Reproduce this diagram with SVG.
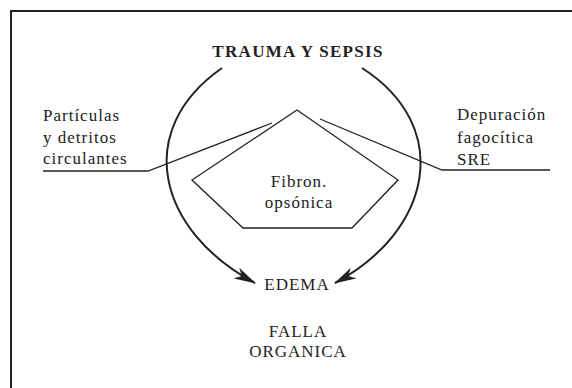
<svg xmlns="http://www.w3.org/2000/svg" width="572" height="388" viewBox="0 0 572 388">
<style>
text{font-family:"Liberation Serif","Times New Roman",serif;fill:#222;font-size:17px;letter-spacing:1px}
.title{font-weight:bold;letter-spacing:1.3px}
.c{text-anchor:middle}
.thin{fill:none;stroke:#222;stroke-width:1.3}
.arc{fill:none;stroke:#222;stroke-width:2}
</style>
<defs>
<marker id="ah" viewBox="0 0 22 12" refX="21" refY="6" markerWidth="22" markerHeight="12" markerUnits="userSpaceOnUse" orient="auto">
<path d="M0,0 L22,6 L0,12 L6,6 Z" fill="#222"/>
</marker>
</defs>
<rect width="572" height="388" fill="#fff"/>
<path d="M11,388 V11 H572" fill="none" stroke="#222" stroke-width="2"/>
<g id="trauma"><text class="title c" x="298" y="57">TRAUMA Y SEPSIS</text></g>
<g id="particulas">
<text x="43" y="121">Partículas</text>
<text x="43" y="143">y detritos</text>
<text x="43" y="164">circulantes</text>
</g>
<g id="depuracion">
<text x="457" y="120">Depuración</text>
<text x="457" y="143">fagocítica</text>
<text x="457" y="165">SRE</text>
</g>
<g id="fibron">
<polygon class="thin" points="297,110 398,180 352,228 243,228 192,180"/>
<text class="c" x="299" y="187">Fibron.</text>
<text class="c" x="299" y="208">opsónica</text>
</g>
<g id="edema"><text class="c" x="297" y="290">EDEMA</text></g>
<g id="falla">
<text class="c" x="298" y="337">FALLA</text>
<text class="c" x="298" y="357">ORGANICA</text>
</g>
<g id="connectors">
<polyline class="thin" points="43,171 148,171 272,123"/>
<polyline class="thin" points="550,170 442,170 320,119"/>
<path class="arc" d="M222,68 C132,131 158,231 255,283" marker-end="url(#ah)"/>
<path class="arc" d="M362,68 C454,127 432,231 335,283" marker-end="url(#ah)"/>
</g>
</svg>
